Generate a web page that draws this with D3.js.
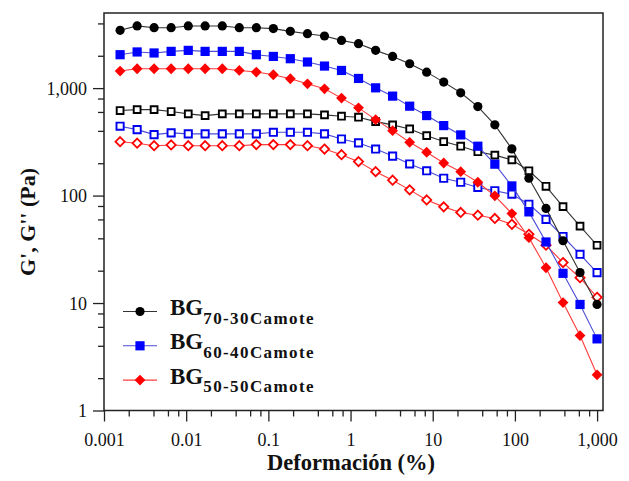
<!DOCTYPE html>
<html>
<head>
<meta charset="utf-8">
<script src="https://cdn.jsdelivr.net/npm/d3@7"></script>
<style>
  body { margin: 0; background: #fff; }
</style>
</head>
<body>
<svg id="chart" width="629" height="481"></svg>
<script>
// strain (%) values, one per measured point
const strain = [0.00157, 0.00253, 0.00407, 0.00656, 0.0106, 0.0170, 0.0275, 0.0443, 0.0714,
  0.115, 0.185, 0.299, 0.482, 0.776, 1.25, 2.02, 3.25, 5.24, 8.44, 13.6, 21.9, 35.4,
  57.0, 91.8, 148, 239, 385, 620, 999];

// G' (storage) and G'' (loss) in Pa
const gp7030 = [3450, 3790, 3650, 3650, 3790, 3790, 3790, 3650, 3650, 3580, 3375, 3210, 3055, 2780,
  2590, 2245, 1972, 1686, 1408, 1137, 904, 673, 455, 272, 145, 76, 38, 19.2, 9.7];
const gpp7030 = [618, 631, 631, 605, 576, 555, 576, 576, 576, 576, 576, 576, 564, 548, 536, 488, 455,
  417, 361, 318, 288, 256, 238, 215, 170, 122, 79, 52, 34.5];
const gp6040 = [2046, 2170, 2123, 2197, 2245, 2197, 2197, 2197, 2046, 1972, 1878, 1750, 1604, 1460,
  1230, 1006, 842, 679, 555, 448, 367, 288, 196, 123, 70.5, 37, 18.9, 9.7, 4.64];
const gpp6040 = [442, 411, 369, 383, 375, 375, 375, 375, 375, 388, 388, 388, 375, 336, 309, 271, 233,
  197, 170, 145, 133, 119, 111, 103, 83, 60, 41.6, 28.4, 19.2];
const gp5050 = [1442, 1514, 1514, 1514, 1514, 1514, 1514, 1460, 1410, 1331, 1222, 1097, 985, 807, 655,
  509, 402, 313, 253, 201, 167, 133, 99.5, 68, 40.6, 21.3, 10.1, 4.98, 2.15];
const gpp5050 = [317, 307, 291, 296, 291, 291, 291, 291, 298, 298, 298, 291, 271, 240, 207, 167, 139,
  113, 91, 78.5, 69.6, 65.7, 61.2, 54, 43.6, 34.5, 23.8, 17.2, 11.3];

const xTicks = [0.001, 0.01, 0.1, 1, 10, 100, 1000];
const xTickLabels = ["0.001", "0.01", "0.1", "1", "10", "100", "1,000"];
const yTicks = [1, 10, 100, 1000];
const yTickLabels = ["1", "10", "100", "1,000"];

const legendNames = ["70-30Camote", "60-40Camote", "50-50Camote"];

const serif = "Liberation Serif";
const svg = d3.select("#chart");
const plotL = 104, plotR = 603, plotT = 13, plotB = 410.5;

const x = d3.scaleLog().domain([0.001, 1180]).range([plotL, plotR]);
const y = d3.scaleLog().domain([1, 5000]).range([plotB, plotT]);

// minor ticks at 2,4,6,8 of each decade
const minorX = [], minorY = [];
for (let e = -3; e <= 3; e++) {
  [2, 4, 6, 8].forEach(m => {
    const v = m * Math.pow(10, e);
    if (v < 1180) minorX.push(v);
    if (e >= 0 && v < 5000) minorY.push(v);
  });
}

const axisColor = "#222";

// frame
svg.append("rect")
  .attr("x", plotL).attr("y", plotT)
  .attr("width", plotR - plotL).attr("height", plotB - plotT)
  .attr("fill", "none").attr("stroke", axisColor).attr("stroke-width", 1.5);

const gx = svg.append("g").attr("transform", "translate(0," + plotB + ")");
gx.call(d3.axisBottom(x).tickValues(xTicks).tickFormat((d, i) => xTickLabels[i])
  .tickSize(11).tickSizeOuter(0).tickPadding(6));
const gxm = svg.append("g").attr("transform", "translate(0," + plotB + ")");
gxm.call(d3.axisBottom(x).tickValues(minorX).tickFormat("").tickSize(6).tickSizeOuter(0));

const gy = svg.append("g").attr("transform", "translate(" + plotL + ",0)");
gy.call(d3.axisLeft(y).tickValues(yTicks).tickFormat((d, i) => yTickLabels[i])
  .tickSize(11).tickSizeOuter(0).tickPadding(6));
const gym = svg.append("g").attr("transform", "translate(" + plotL + ",0)");
gym.call(d3.axisLeft(y).tickValues(minorY).tickFormat("").tickSize(6).tickSizeOuter(0));

[gx, gxm, gy, gym].forEach(g => {
  g.attr("font-family", null).attr("font-size", null);
  g.select(".domain").remove();
  g.selectAll("line").attr("stroke", axisColor).attr("stroke-width", 1.3);
  g.selectAll("text")
    .attr("font-family", serif)
    .attr("font-size", 18)
    .attr("fill", "#111");
});
gx.selectAll("text").attr("dy", "1.0em");
gy.selectAll("text").attr("dy", "0.34em");

// axis titles
svg.append("text")
  .attr("x", 351).attr("y", 470)
  .attr("text-anchor", "middle")
  .attr("font-family", serif)
  .attr("font-size", 22.5).attr("font-weight", "bold")
  .attr("fill", "#111")
  .text("Deformación (%)");

svg.append("text")
  .attr("transform", "translate(35,222) rotate(-90)")
  .attr("text-anchor", "middle")
  .attr("font-family", serif)
  .attr("font-size", 22).attr("font-weight", "bold")
  .attr("fill", "#111")
  .text("G', G'' (Pa)");

// marker shapes
function diamond(r) {
  return "M0," + (-r) + "L" + r + ",0L0," + r + "L" + (-r) + ",0Z";
}
function square(s) {
  return "M" + (-s) + "," + (-s) + "H" + s + "V" + s + "H" + (-s) + "Z";
}
function circle(r) {
  return d3.symbol(d3.symbolCircle, Math.PI * r * r)();
}

const series = [
  { v: gpp7030, line: "#333", color: "#000", shape: square(3.4), fill: "#fff", sw: 1.9 },
  { v: gpp6040, line: "#4b4bd8", color: "#0000ee", shape: square(3.6), fill: "#fff", sw: 1.9 },
  { v: gpp5050, line: "#ff3b3b", color: "#ff0000", shape: diamond(4.6), fill: "#fff", sw: 1.8 },
  { v: gp7030, line: "#333", color: "#000", shape: circle(4.6), fill: "#000", sw: 0 },
  { v: gp6040, line: "#4b4bd8", color: "#0000ff", shape: square(4.6), fill: "#0000ff", sw: 0 },
  { v: gp5050, line: "#ff3b3b", color: "#ff0000", shape: diamond(5.4), fill: "#ff0000", sw: 0 }
];

const line = d3.line().x(d => x(d[0])).y(d => y(d[1]));

series.forEach(s => {
  const pts = strain.map((st, i) => [st, s.v[i]]);
  svg.append("path")
    .attr("d", line(pts))
    .attr("fill", "none")
    .attr("stroke", s.line)
    .attr("stroke-width", 1.1);
  svg.append("g").selectAll("path")
    .data(pts)
    .enter()
    .append("path")
    .attr("transform", d => "translate(" + x(d[0]) + "," + y(d[1]) + ")")
    .attr("d", s.shape)
    .attr("fill", s.fill)
    .attr("stroke", s.sw ? s.color : "none")
    .attr("stroke-width", s.sw);
});

// legend
const legendMarks = [series[3], series[4], series[5]];
legendMarks.forEach((s, i) => {
  const ly = 311.5 + i * 34.3;
  const g = svg.append("g");
  g.append("line")
    .attr("x1", 123).attr("x2", 157).attr("y1", ly).attr("y2", ly)
    .attr("stroke", s.line).attr("stroke-width", 1.1);
  g.append("path")
    .attr("transform", "translate(140," + ly + ")")
    .attr("d", s.shape)
    .attr("fill", s.fill);
  const t = g.append("text")
    .attr("x", 170).attr("y", ly + 3.5)
    .attr("font-family", serif)
    .attr("font-weight", "bold").attr("font-size", 23)
    .attr("fill", "#111");
  t.append("tspan").text("BG");
  t.append("tspan")
    .attr("dy", 8.5)
    .attr("font-size", 17)
    .attr("letter-spacing", 1.4)
    .text(legendNames[i]);
});
</script>
</body>
</html>
